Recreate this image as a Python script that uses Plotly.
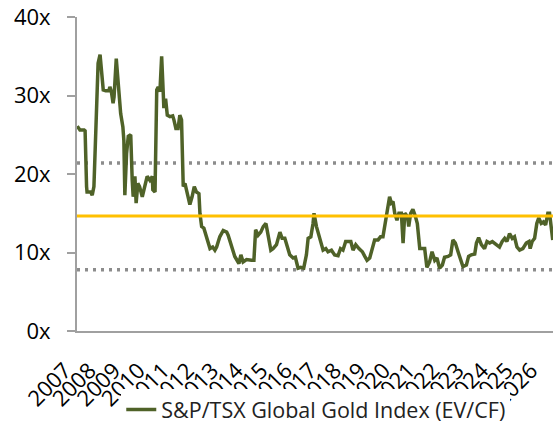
import plotly.graph_objects as go

# Decimal year / EV-CF multiple
years = [2007.01, 2007.08, 2007.12, 2007.29, 2007.33, 2007.39, 2007.41, 2007.56, 2007.62, 2007.69,
         2007.86, 2007.94, 2008.03, 2008.07, 2008.17, 2008.30, 2008.34, 2008.40, 2008.47, 2008.51,
         2008.60, 2008.68, 2008.78, 2008.87, 2008.91, 2008.95, 2009.02, 2009.09, 2009.19, 2009.25,
         2009.29, 2009.36, 2009.41, 2009.48, 2009.55, 2009.66, 2009.76, 2009.86, 2009.97, 2010.07,
         2010.09, 2010.18, 2010.25, 2010.31, 2010.38, 2010.45, 2010.51, 2010.54, 2010.61, 2010.68,
         2010.79, 2010.90, 2010.95, 2011.03, 2011.12, 2011.19, 2011.26, 2011.33, 2011.40, 2011.47,
         2011.60, 2011.69, 2011.78, 2011.87, 2011.97, 2012.01, 2012.08, 2012.17, 2012.28, 2012.42,
         2012.53, 2012.62, 2012.69, 2012.82, 2012.96, 2013.10, 2013.16, 2013.26, 2013.34, 2013.43,
         2013.60, 2013.68, 2013.77, 2013.91, 2014.11, 2014.21, 2014.28, 2014.38, 2014.49, 2014.59,
         2014.70, 2014.79, 2014.90, 2014.99, 2015.13, 2015.27, 2015.36, 2015.47, 2015.58, 2015.67,
         2015.81, 2015.90, 2016.01, 2016.12, 2016.24, 2016.35, 2016.42, 2016.53, 2016.62, 2016.66,
         2016.76, 2016.85, 2016.93, 2017.03, 2017.14, 2017.23, 2017.37, 2017.50, 2017.64, 2017.74,
         2017.84, 2017.95, 2018.05, 2018.16, 2018.25, 2018.36, 2018.49, 2018.63, 2018.73, 2018.82,
         2018.93, 2019.04, 2019.13, 2019.27, 2019.37, 2019.47, 2019.58, 2019.68, 2019.74, 2019.81,
         2019.88, 2019.95, 2020.04, 2020.12, 2020.22, 2020.29, 2020.36, 2020.47, 2020.52, 2020.60,
         2020.69, 2020.79, 2020.87, 2020.97, 2021.06, 2021.17, 2021.26, 2021.37, 2021.47, 2021.58,
         2021.67, 2021.78, 2021.89, 2021.98, 2022.12, 2022.23, 2022.32, 2022.42, 2022.53, 2022.64,
         2022.73, 2022.87, 2022.96, 2023.07, 2023.21, 2023.28, 2023.37, 2023.48, 2023.61, 2023.71,
         2023.82, 2023.93, 2024.02, 2024.11, 2024.22, 2024.33, 2024.43, 2024.52, 2024.63, 2024.74,
         2024.83, 2024.93, 2025.04, 2025.17, 2025.31, 2025.42, 2025.47, 2025.55, 2025.65, 2025.74,
         2025.82, 2025.92, 2026.01, 2026.10, 2026.19, 2026.26, 2026.33, 2026.39]
ev_cf = [26.1, 25.7, 25.6, 25.6, 25.5, 18.4, 17.7, 17.7, 17.3, 18.4,
         34.1, 35.2, 32.0, 30.7, 30.6, 30.6, 31.1, 30.5, 29.0, 29.8,
         34.7, 31.5, 27.7, 26.0, 24.3, 17.3, 22.6, 24.8, 25.0, 19.2,
         17.1, 19.7, 16.3, 18.8, 18.4, 17.1, 18.4, 19.7, 19.2, 19.7,
         18.0, 17.7, 30.7, 31.1, 30.5, 35.0, 30.7, 28.4, 29.6, 27.5,
         27.3, 27.4, 26.9, 25.8, 25.8, 27.5, 26.9, 18.4, 18.8, 18.0,
         16.1, 17.1, 18.4, 17.7, 17.5, 15.0, 13.3, 13.1, 11.8, 10.5,
         10.7, 10.3, 10.7, 12.0, 12.8, 12.6, 12.2, 11.2, 10.5, 9.5,
         8.6, 9.7, 8.8, 9.1, 9.0, 9.0, 12.9, 12.2, 12.6, 13.3,
         13.7, 12.2, 10.3, 10.5, 11.0, 12.6, 11.8, 11.8, 10.5, 9.7,
         9.3, 9.4, 8.0, 8.1, 8.0, 9.7, 11.8, 12.0, 13.7, 15.0,
         13.3, 12.4, 11.6, 10.3, 10.5, 10.1, 10.3, 9.7, 9.6, 10.5,
         10.3, 11.4, 11.4, 11.4, 10.3, 11.0, 10.5, 10.1, 9.5, 9.0,
         9.3, 10.5, 11.6, 11.6, 12.0, 12.0, 14.1, 15.8, 17.1, 16.3,
         16.5, 15.0, 14.1, 15.0, 15.0, 11.2, 15.0, 14.6, 13.3, 15.0,
         15.5, 14.6, 13.7, 10.5, 10.5, 10.5, 8.1, 8.8, 10.1, 9.0,
         9.3, 8.0, 8.4, 9.4, 9.5, 9.7, 11.6, 11.2, 10.1, 9.0,
         8.2, 8.4, 9.5, 9.7, 9.8, 11.2, 11.9, 11.0, 10.5, 11.4,
         11.2, 11.4, 11.2, 11.0, 10.7, 11.4, 11.8, 11.4, 12.4, 11.8,
         12.0, 10.7, 10.3, 10.5, 11.2, 11.4, 10.5, 11.4, 11.8, 13.7,
         14.4, 13.7, 13.9, 13.5, 15.0, 15.0, 12.9, 11.6]

average = 14.65
plus_one_sd = 21.4
minus_one_sd = 7.8

tick_years = list(range(2007, 2027))
tick_labels = [str(y) for y in tick_years]
y_ticks = [0, 10, 20, 30, 40]
y_labels = [f"{v}x" for v in y_ticks]

series_name = "S&P/TSX Global Gold Index (EV/CF)"

x0, x1 = 2007.0, 2026.4
span = [x0, x1]

fig = go.Figure()
fig.add_trace(go.Scatter(x=span, y=[plus_one_sd] * 2, mode="lines", showlegend=False,
                         line=dict(color="#8C8C8C", width=3.5, dash="3px,5px"), hoverinfo="skip"))
fig.add_trace(go.Scatter(x=span, y=[minus_one_sd] * 2, mode="lines", showlegend=False,
                         line=dict(color="#8C8C8C", width=3.5, dash="3px,5px"), hoverinfo="skip"))
fig.add_trace(go.Scatter(x=years, y=ev_cf, mode="lines", name=series_name,
                         line=dict(color="#4F6228", width=3.5)))
fig.add_trace(go.Scatter(x=span, y=[average] * 2, mode="lines", showlegend=False,
                         line=dict(color="#FFC000", width=3), hoverinfo="skip"))

fig.update_layout(
    width=555, height=427, autosize=False,
    margin=dict(l=77, r=2, t=17, b=96, autoexpand=False),
    paper_bgcolor="white", plot_bgcolor="white",
    font=dict(family="Open Sans", color="black"),
    legend=dict(orientation="h", x=0.093, xanchor="left", y=-0.25, yanchor="middle",
                font=dict(size=21.5, family="Open Sans", color="#222222")),
    xaxis=dict(range=span, tickmode="array", tickvals=tick_years, ticktext=tick_labels,
               tickangle=-45, tickfont=dict(size=22), showgrid=False, zeroline=False,
               showline=True, linecolor="#A0A0A0", linewidth=2, ticks="",
               ticklabelshift=-12, ticklabelstandoff=16, automargin=False,
               ticklabeloverflow="allow"),
    yaxis=dict(range=[0, 40], tickmode="array", tickvals=y_ticks, ticktext=y_labels,
               tickfont=dict(size=22), showgrid=False, zeroline=False,
               showline=True, linecolor="#A0A0A0", linewidth=2,
               ticks="outside", ticklen=8, tickcolor="#A0A0A0", tickwidth=2,
               ticklabelstandoff=12, automargin=False, ticklabeloverflow="allow"),
)

fig.write_html(
    "out.html",
    config={"displayModeBar": False},
    post_script="document.body.style.margin='0';document.body.style.overflow='hidden';",
)
